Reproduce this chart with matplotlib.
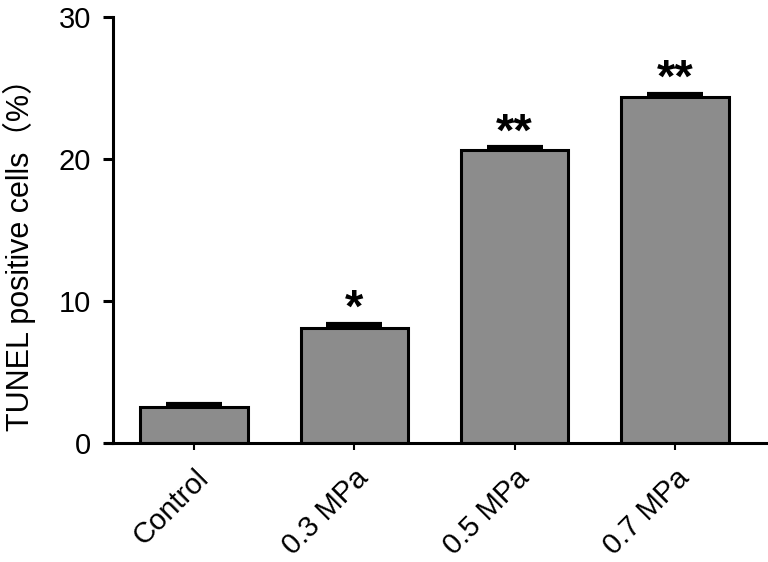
import numpy as np
import matplotlib.pyplot as plt

plt.rcParams['font.family'] = ['Liberation Sans', 'Noto Sans CJK SC', 'DejaVu Sans']

groups = ["Control", "0.3 MPa", "0.5 MPa", "0.7 MPa"]
tunel = [2.55, 8.1, 20.65, 24.35]
sem = [0.2, 0.3, 0.2, 0.25]
stars = ["", "*", "**", "**"]

fig = plt.figure(figsize=(7.68, 5.62), dpi=100)
ax = fig.add_axes([113/768, 119/562, 655/768, 426/562])

x = np.arange(len(groups))
ax.bar(x, tunel, width=0.67, color="#8c8c8c", edgecolor="black", linewidth=2.2, zorder=2)
ax.errorbar(x, tunel, yerr=[np.zeros(len(sem)), sem], fmt="none", ecolor="black",
            elinewidth=1.5, capsize=20, capthick=3, zorder=1)

for xi, v, e, s in zip(x, tunel, sem, stars):
    if s:
        ax.annotate(s, (xi, v + e), xytext=(0, -6), textcoords="offset points",
                    ha="center", va="bottom", fontsize=34, fontweight="bold")

ax.set_xlim(-0.506, 3.58)
ax.set_ylim(0, 30)
ax.set_yticks([0, 10, 20, 30])
ax.set_xticks(x)
ax.set_xticklabels(groups, rotation=45, ha="right", rotation_mode="anchor", fontsize=21)
ax.tick_params(axis="y", labelsize=21, length=7, width=2.2, direction="out", pad=9)
ax.tick_params(axis="x", length=5, width=1.5, direction="out", pad=10)
ax.set_ylabel("TUNEL positive cells（%）", fontsize=22)
ax.yaxis.set_label_coords(-0.118, 0.46)

for side in ["top", "right"]:
    ax.spines[side].set_visible(False)
for side in ["left", "bottom"]:
    ax.spines[side].set_linewidth(2.2)

# x axis line runs a bit past the y axis on the left
ax.plot([-0.565, -0.506], [0, 0], color="black", lw=2.2, clip_on=False, solid_capstyle="butt")

fig.savefig("out.png", dpi=100)
